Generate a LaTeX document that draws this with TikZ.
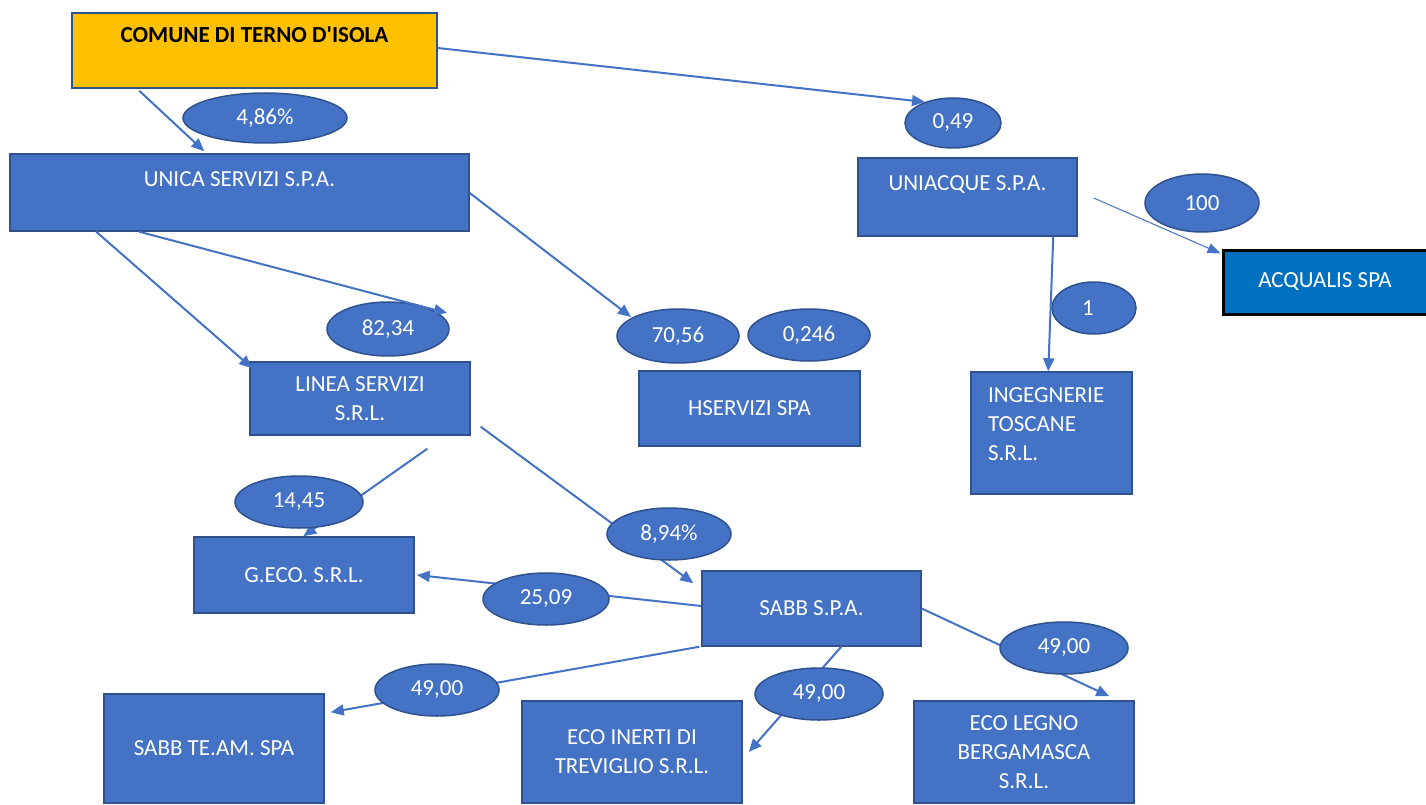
\documentclass[tikz,border=0pt]{standalone}
\usepackage{fontspec}
\setmainfont{Carlito}
\usetikzlibrary{shapes.geometric,arrows.meta,calc}
\definecolor{boxblue}{HTML}{4472C4}
\definecolor{edgeblue}{HTML}{2F528F}
\definecolor{orangefill}{HTML}{FFC000}
\definecolor{acqblue}{HTML}{0070C0}
\newcommand\pctlow[1]{\raisebox{-3pt}{#1}}
\begin{document}
\begin{tikzpicture}[x=1pt,y=-1pt,
  every node/.style={font=\fontsize{23}{29}\selectfont},
  orgbox/.style={rectangle, draw=edgeblue, fill=boxblue, text=white, line width=1.5pt, inner sep=0pt, align=center},
  pct/.style={ellipse, draw=edgeblue, fill=boxblue, text=white, line width=1.5pt, inner sep=0pt},
  link/.style={draw=boxblue, line width=2pt, -{Triangle[length=13pt,width=11pt]}},
  thinlink/.style={draw=boxblue, line width=1pt, -{Triangle[length=13pt,width=10pt]}}]
\useasboundingbox[fill=white] (0,0) rectangle (1426,805);

% boxes
\node[orgbox, fill=orangefill, text=black, font=\fontsize{23}{29}\selectfont\bfseries, minimum width=365pt, text height=30pt, text depth=45pt] (comune) at (254.5,50.5) {COMUNE DI TERNO D\textquotesingle ISOLA};
\node[orgbox, minimum width=459pt, text height=32pt, text depth=45pt] (unica) at (239.5,192.5) {UNICA SERVIZI S.P.A.};
\node[orgbox, minimum width=219pt, text height=33pt, text depth=45pt] (uniacque) at (967.5,197) {UNIACQUE S.P.A.};
\node[orgbox, fill=acqblue, draw=black, line width=3pt, minimum width=204pt, minimum height=64pt] (acqualis) at (1325,282) {ACQUALIS SPA};
\node[orgbox, align=left, inner xsep=17pt, text width=127pt, text height=30pt, text depth=92pt] (ingegnerie) at (1051.5,433) {INGEGNERIE\\TOSCANE\\S.R.L.};
\node[orgbox, minimum width=220pt, minimum height=73pt] (linea) at (360,398.5) {LINEA SERVIZI\\S.R.L.};
\node[orgbox, minimum width=221pt, minimum height=75pt] (hservizi) at (749.5,408.5) {HSERVIZI SPA};
\node[orgbox, minimum width=220pt, minimum height=76pt] (geco) at (304,575) {G.ECO. S.R.L.};
\node[orgbox, minimum width=219pt, minimum height=75pt] (sabb) at (811.5,608.5) {SABB S.P.A.};
\node[orgbox, minimum width=220pt, minimum height=109pt] (sabbteam) at (214,748.5) {SABB TE.AM. SPA};
\node[orgbox, minimum width=220pt, minimum height=102pt] (ecoinerti) at (632,752) {ECO INERTI DI\\TREVIGLIO S.R.L.};
\node[orgbox, minimum width=220pt, minimum height=102pt] (ecolegno) at (1024,752) {ECO LEGNO\\BERGAMASCA\\S.R.L.};

% connectors passing under the percentage ellipses
\draw[link] ($(comune.south west)+(68,2)$) -- ($(unica.north west)+(195,-2)$);
\draw[link] ($(unica.south west)+(87,0)$) -- ($(linea.north west)+(3,7)$);
\draw[link] ($(uniacque.south west)+(196,0)$) -- ($(ingegnerie.north west)+(78,0)$);
\draw[thinlink] ($(uniacque.east)+(16,1)$) -- ($(acqualis.north west)+(-1,5)$);
\draw[link] ($(linea.south west)+(178,13)$) -- ($(geco.north west)+(110,0)$);
\draw[link] ($(linea.south east)+(10,-9)$) -- ($(sabb.north west)+(-8,13)$);
\draw[link] ($(sabb.west)+(0,-2.5)$) -- ($(geco.east)+(2,0)$);
\draw[link] ($(sabb.south west)+(-2,0)$) -- ($(sabbteam.north east)+(6,19)$);
\draw[link] ($(sabb.south west)+(140,0)$) -- ($(ecoinerti.east)+(6,0)$);
\draw[link] (sabb.east) -- ($(ecolegno.north west)+(196,-4)$);

% percentage ellipses
\node[pct, minimum width=164pt, minimum height=50pt] (e486) at (265,118) {\pctlow{4,86\%}};
\node[pct, minimum width=96pt, minimum height=50pt] (e049) at (953,123) {\pctlow{0,49}};
\node[pct, minimum width=114pt, minimum height=58pt] (e100) at (1202,203) {\pctlow{100}};
\node[pct, minimum width=84pt, minimum height=52pt] (e1) at (1094,308) {\pctlow{\hspace*{-12pt}1}};
\node[pct, minimum width=122pt, minimum height=54pt] (e8234) at (388,329) {82,34};
\node[pct, minimum width=122pt, minimum height=54pt] (e7056) at (678,336) {\pctlow{70,56}};
\node[pct, minimum width=122pt, minimum height=52pt] (e0246) at (809,335) {0,246};
\node[pct, minimum width=128pt, minimum height=52pt] (e1445) at (299,502) {\pctlow{14,45}};
\node[pct, minimum width=124pt, minimum height=52pt] (e894) at (669,534) {\pctlow{8,94\%}};
\node[pct, minimum width=126pt, minimum height=52pt] (e2509) at (546,599) {25,09};
\node[pct, minimum width=124pt, minimum height=52pt] (e49a) at (437,690) {49,00};
\node[pct, minimum width=128pt, minimum height=52pt] (e49b) at (819,694) {\pctlow{49,00}};
\node[pct, minimum width=128pt, minimum height=52pt] (e49c) at (1064,648) {49,00};

% connectors ending at ellipses
\draw[link] ($(comune.east)+(0,-2.5)$) -- ($(e049.center)+(-28,-21)$);
\draw[link] ($(unica.south west)+(130,0)$) -- ($(e8234.center)+(59,-16)$);
\draw[link] ($(unica.east)+(0,0.5)$) -- ($(e7056.center)+(-47,-19)$);
\end{tikzpicture}
\end{document}
